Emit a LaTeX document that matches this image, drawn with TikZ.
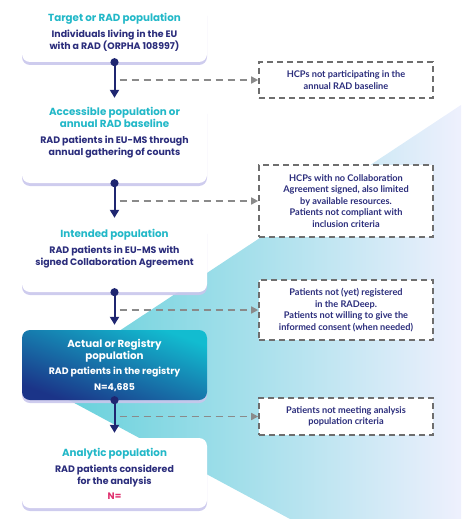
\documentclass[tikz,border=0pt]{standalone}
\usepackage{fontspec}
\setmainfont{Poppins}
\newfontfamily\notefont{Lato}
\usetikzlibrary{arrows.meta,positioning,calc,shadows,backgrounds}
\definecolor{RadNavy}{HTML}{2B2D7C}
\definecolor{RadTeal}{HTML}{22B8C8}
\definecolor{RadArrow}{HTML}{1F2671}
\definecolor{RadGray}{HTML}{6E6E6E}
\definecolor{RadGrayL}{HTML}{8A8A8A}
\definecolor{RadPink}{HTML}{E0306E}
\definecolor{RadCyan}{HTML}{12BCD0}
\definecolor{RadDeep}{HTML}{1B3488}
\definecolor{RadShadow}{HTML}{C9C6EC}
\definecolor{RadBgL}{HTML}{5ECFD9}
\definecolor{RadBgM}{HTML}{C8F2F6}
\definecolor{RadBgR}{HTML}{EEF0FD}
% font sizes have to be given again on every line of an aligned node
\newcommand\popttl{\fontsize{10.3}{12}\selectfont\color{RadTeal}}
\newcommand\popbody{\fontsize{9.4}{12}\selectfont\color{RadNavy}}
\tikzset{
  popbox/.style={fill=white, rounded corners=8pt, inner sep=0pt,
                 minimum width=185pt,
                 drop shadow={shadow xshift=0pt, shadow yshift=-3pt,
                              fill=RadShadow, opacity=0.9}},
  regbox/.style={rounded corners=8pt, inner sep=0pt, minimum width=185pt,
                 top color=RadCyan, bottom color=RadDeep, shading angle=-20,
                 drop shadow={shadow xshift=0pt, shadow yshift=-3pt,
                              fill=RadShadow, opacity=0.9}},
  poptext/.style={align=center, text=RadNavy,
                  font=\fontsize{9.4}{12}\selectfont\bfseries},
  exclbox/.style={draw=RadGray, dashed, dash pattern=on 6pt off 4pt,
                  line width=1.6pt, fill=white, inner sep=0pt,
                  minimum width=174pt, align=center, text=RadNavy,
                  font=\notefont\fontsize{9.2}{11.6}\selectfont\bfseries},
  flow/.style={{Circle[length=8pt]}-{Triangle[length=8pt,width=9pt]},
               line width=2pt, RadArrow, shorten <=-4pt, shorten >=5pt},
  excl/.style={-{Triangle[length=7pt,width=7pt]}, dashed,
               dash pattern=on 7pt off 5pt, line width=1.6pt, RadGrayL},
}

\begin{document}
\begin{tikzpicture}[x=1pt, y=-1pt]
  \useasboundingbox (0,0) rectangle (461,519);

  % ---- Background wedge ----
  \begin{scope}[on background layer]
    \shade[left color=RadBgL, middle color=RadBgM, right color=RadBgR]
      (461,105) -- (39,384) -- (290,519) -- (461,519) -- cycle;
  \end{scope}

  % ---- Population stack (left) ----
  \node[popbox, minimum height=57pt] (tgt) at (114.5,33.5) {};
  \node[popbox, minimum height=80pt] (acc) at (114.5,143) {};
  \node[popbox, minimum height=69pt] (int) at (114.5,257.5) {};
  \node[regbox, minimum height=70pt] (reg) at (114.5,365) {};
  \node[popbox, minimum height=70pt] (ana) at (114.5,473) {};

  \node[poptext] (tgtT) at (114.5,32)
    {\popttl Target or RAD population\\[4pt]
     \popbody Individuals living in the EU\\with a RAD (ORPHA 108997)};
  \node[poptext] (accT) at (114.5,133)
    {\popttl Accessible population or\\\popttl annual RAD baseline\\[4pt]
     \popbody RAD patients in EU-MS through\\annual gathering of counts};
  \node[poptext] (intT) at (114.5,248.5)
    {\popttl Intended population\\[4pt]
     \popbody RAD patients in EU-MS with\\signed Collaboration Agreement};
  \node[poptext, text=white] (regT) at (114.5,365)
    {\fontsize{10.3}{12}\selectfont Actual or Registry\\
     \fontsize{10.3}{12}\selectfont population\\[3pt]
     RAD patients in the registry\\[4pt] N=4,685};
  \node[poptext] (anaT) at (114.5,473.5)
    {\popttl Analytic population\\[4pt]
     \popbody RAD patients considered\\for the analysis\\[3pt]
     \color{RadPink}N=};

  % ---- Exclusions (right) ----
  \node[exclbox, minimum height=36pt] (hcp1) at (346,80)
    {HCPs not participating in the\\annual RAD baseline};
  \node[exclbox, minimum height=72pt] (hcp2) at (346,201)
    {HCPs with no Collaboration\\Agreement signed, also limited\\by available resources.\\Patients not compliant with\\inclusion criteria};
  \node[exclbox, minimum height=60pt] (pat1) at (346,310)
    {Patients not (yet) registered\\in the RADeep.\\Patients not willing to give the\\informed consent (when needed)};
  \node[exclbox, minimum height=37pt] (pat2) at (346,416.5)
    {Patients not meeting analysis\\population criteria};

  % ---- Arrows ----
  \draw[flow] (tgt.south) -- (acc.north);
  \draw[flow] (acc.south) -- (int.north);
  \draw[flow] (int.south) -- (reg.north);
  \draw[flow] (reg.south) -- (ana.north);

  \draw[excl] ($(hcp1.west -| tgt.south)+(5,0)$) -- (hcp1.west);
  \draw[excl] ($(hcp2.west -| acc.south)+(5,0)$) -- (hcp2.west);
  \draw[excl] ($(pat1.west -| int.south)+(5,0)$) -- (pat1.west);
  \draw[excl] ($(pat2.west -| reg.south)+(5,0)$) -- (pat2.west);

\end{tikzpicture}
\end{document}
